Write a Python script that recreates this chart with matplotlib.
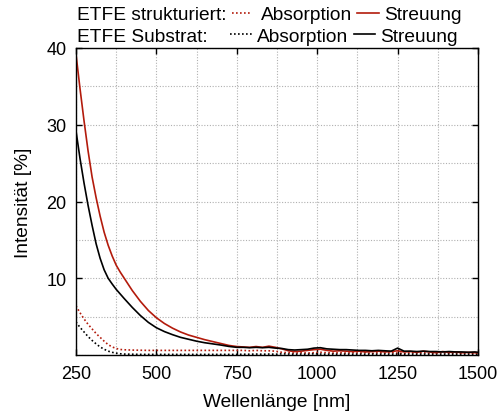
import matplotlib
matplotlib.use("Agg")
import matplotlib.pyplot as plt
from matplotlib.lines import Line2D
from matplotlib.ticker import MultipleLocator, NullFormatter

plt.rcParams["font.family"] = ["Liberation Sans", "DejaVu Sans"]

# Wavelength grid [nm]
wavelength = [250, 262.5, 275, 287.5, 300, 312.5, 325, 337.5, 350, 362.5, 375, 387.5, 400,
              425, 450, 475, 500, 525, 550, 575, 600, 625, 650, 675, 700, 725, 750,
              770, 790, 810, 830, 850, 870, 890, 910, 930, 950, 970, 990, 1010, 1030,
              1050, 1070, 1090, 1110, 1130, 1150, 1170, 1190, 1210, 1230, 1250, 1270,
              1290, 1310, 1330, 1350, 1370, 1390, 1410, 1430, 1450, 1470, 1490, 1500]

# ETFE strukturiert
struct_scatter = [39.2, 34.7, 30.5, 26.6, 23.2, 20.5, 18.1, 16.0, 14.3, 12.9, 11.7, 10.8, 10.0,
                  8.4, 7.0, 5.8, 4.85, 4.1, 3.5, 3.0, 2.6, 2.3, 2.0, 1.75, 1.5, 1.25, 1.1,
                  1.05, 1.0, 1.1, 1.0, 1.15, 1.0, 0.8, 0.55, 0.45, 0.5, 0.6, 0.7, 0.75, 0.6,
                  0.5, 0.55, 0.5, 0.45, 0.5, 0.4, 0.45, 0.5, 0.4, 0.45, 0.55, 0.4,
                  0.45, 0.35, 0.5, 0.4, 0.3, 0.45, 0.35, 0.4, 0.3, 0.35, 0.3, 0.3]
struct_absorb = [6.4, 5.5, 4.7, 4.0, 3.4, 2.8, 2.3, 1.8, 1.35, 1.05, 0.85, 0.72, 0.68,
                 0.64, 0.62, 0.6, 0.6, 0.6, 0.6, 0.6, 0.6, 0.6, 0.6, 0.6, 0.6, 0.6, 0.6,
                 0.6, 0.55, 0.6, 0.55, 0.55, 0.5, 0.35, 0.3, 0.25, 0.3, 0.25, 0.3, 0.35, 0.3,
                 0.25, 0.3, 0.25, 0.3, 0.25, 0.3, 0.2, 0.3, 0.25, 0.3, 0.25, 0.2,
                 0.3, 0.25, 0.3, 0.2, 0.25, 0.3, 0.2, 0.25, 0.2, 0.25, 0.2, 0.2]

# ETFE Substrat
subst_scatter = [29.2, 25.6, 22.4, 19.5, 16.9, 14.5, 12.6, 11.1, 10.0, 9.25, 8.55, 7.95, 7.35,
                 6.2, 5.15, 4.25, 3.55, 3.05, 2.65, 2.3, 2.05, 1.8, 1.6, 1.45, 1.3, 1.12, 1.0,
                 1.0, 0.95, 1.0, 0.95, 1.0, 0.9, 0.85, 0.7, 0.65, 0.7, 0.75, 0.9, 0.95, 0.8,
                 0.75, 0.7, 0.7, 0.65, 0.6, 0.6, 0.55, 0.6, 0.55, 0.5, 0.9, 0.5,
                 0.5, 0.45, 0.5, 0.45, 0.45, 0.4, 0.45, 0.4, 0.4, 0.35, 0.4, 0.35]
subst_absorb = [4.3, 3.6, 3.0, 2.4, 1.9, 1.45, 1.05, 0.75, 0.5, 0.35, 0.24, 0.16, 0.12,
                0.1, 0.08, 0.08, 0.08, 0.08, 0.08, 0.08, 0.08, 0.08, 0.08, 0.08, 0.08, 0.08, 0.08,
                0.1, 0.1, 0.12, 0.1, 0.12, 0.1, 0.15, 0.12, 0.1, 0.12, 0.1, 0.15, 0.12, 0.1,
                0.12, 0.1, 0.12, 0.1, 0.12, 0.1, 0.12, 0.1, 0.12, 0.1, 0.12, 0.1,
                0.12, 0.1, 0.12, 0.1, 0.12, 0.1, 0.12, 0.1, 0.12, 0.1, 0.12, 0.1]

RED = "#B31B0C"
BLACK = "#000000"
DOTS = (0, (1, 1.4))
LW = 1.2
FS_LABEL = 13.8
FS_TICK = 13

W, H = 501, 414
fig = plt.figure(figsize=(W / 100, H / 100), dpi=100)
ax = fig.add_axes([76 / W, 1 - 356 / H, (478 - 76) / W, (356 - 49) / H])

ax.plot(wavelength, struct_absorb, color=RED, lw=LW, ls=DOTS)
ax.plot(wavelength, subst_absorb, color=BLACK, lw=LW, ls=DOTS)
ax.plot(wavelength, struct_scatter, color=RED, lw=LW)
ax.plot(wavelength, subst_scatter, color=BLACK, lw=LW)

ax.set_xlim(250, 1500)
ax.set_ylim(0, 40)
ax.set_xticks([250, 500, 750, 1000, 1250, 1500])
ax.xaxis.set_minor_locator(MultipleLocator(125))
ax.set_yticks([10, 20, 30, 40])
ax.yaxis.set_minor_locator(MultipleLocator(5))
ax.xaxis.set_minor_formatter(NullFormatter())
ax.yaxis.set_minor_formatter(NullFormatter())

ax.grid(True, which="both", color="#b0b0b0", lw=0.8, ls=(0, (1, 1.5)))
ax.set_axisbelow(True)
ax.tick_params(which="major", direction="in", length=4, width=1.0,
               top=True, right=True, labelsize=FS_TICK, pad=7)
ax.tick_params(which="minor", length=0)
for s in ax.spines.values():
    s.set_linewidth(1.0)

ax.set_xlabel("Wellenlänge [nm]", fontsize=FS_LABEL, labelpad=8)
ax.set_ylabel("Intensität [%]", fontsize=FS_LABEL, labelpad=10)

# Two-row key above the plot area
def fx(px):
    return px / W

def fy(py):
    return 1 - py / H

rows = [
    ("ETFE strukturiert:", RED, 20, 13.5, [232, 252], 261, [357, 379], 384),
    ("ETFE Substrat:", BLACK, 42, 35.0, [230, 252], 257, [354, 375], 380),
]
for title, col, base, mid, dot_x, abs_x, sol_x, str_x in rows:
    fig.text(fx(77), fy(base), title, fontsize=FS_LABEL, va="baseline", ha="left")
    fig.add_artist(Line2D([fx(dot_x[0]), fx(dot_x[1])], [fy(mid), fy(mid)],
                          color=col, lw=LW, ls=DOTS, transform=fig.transFigure))
    fig.text(fx(abs_x), fy(base), "Absorption", fontsize=FS_LABEL, va="baseline", ha="left")
    fig.add_artist(Line2D([fx(sol_x[0]), fx(sol_x[1])], [fy(mid), fy(mid)],
                          color=col, lw=LW, transform=fig.transFigure))
    fig.text(fx(str_x), fy(base), "Streuung", fontsize=FS_LABEL, va="baseline", ha="left")

fig.savefig("out.png", dpi=100)
